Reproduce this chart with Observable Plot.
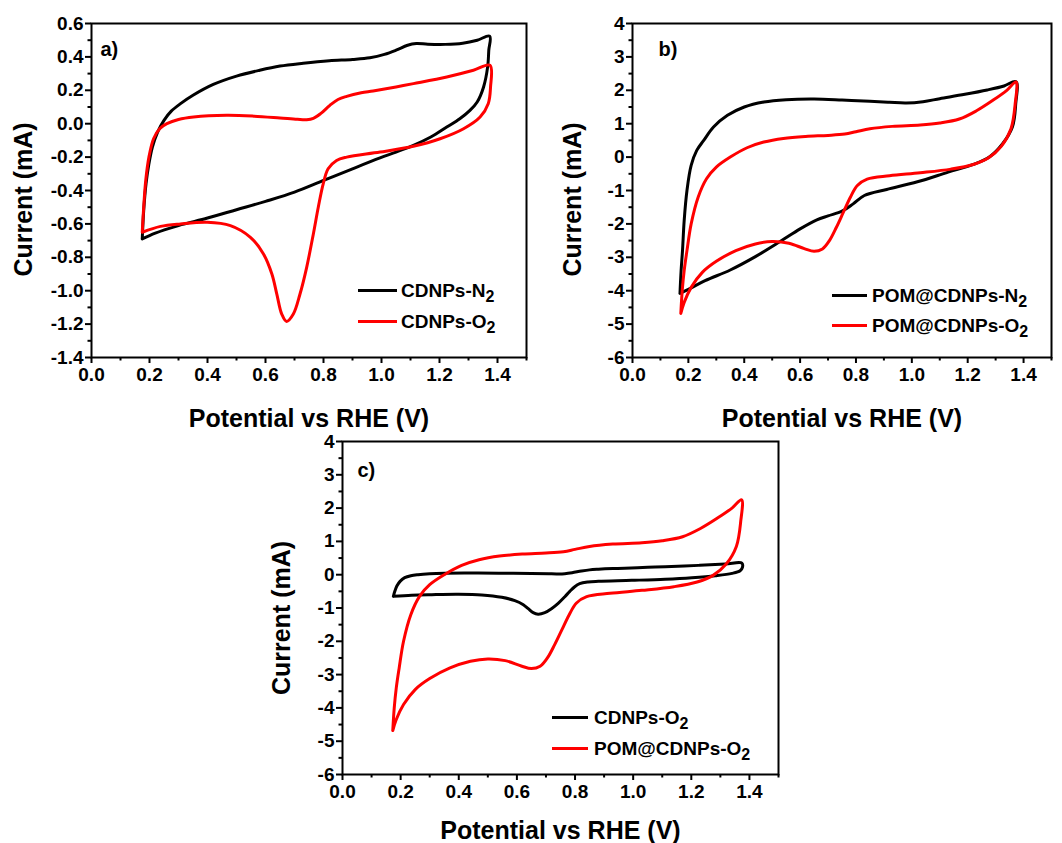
<!DOCTYPE html>
<html>
<head>
<meta charset="utf-8">
<script src="https://cdn.jsdelivr.net/npm/d3@7"></script>
<script src="https://cdn.jsdelivr.net/npm/@observablehq/plot@0.6"></script>
<style>
  html, body { margin: 0; padding: 0; background: #fff; }
  #root { position: relative; width: 1062px; height: 843px; overflow: hidden;
          font-family: "Liberation Sans", Arial, sans-serif; font-weight: bold; color: #000; }
  .panel { position: absolute; }
  .leg-line { position: absolute; height: 3px; }
  .leg-text { position: absolute; font-size: 19px; line-height: 19px; white-space: nowrap; }
  .leg-text .sub { font-size: 16px; position: relative; top: 5px; }
</style>
</head>
<body>
<div id="root"></div>
<script>
// ---------- data (E vs RHE in V, current in mA), each a closed CV loop ----------
const cdnpsN2 = [
  [0.175,-0.69],[0.18,-0.52],[0.188,-0.36],[0.198,-0.24],[0.21,-0.14],[0.228,-0.05],[0.25,0.02],
  [0.275,0.075],[0.307,0.12],[0.35,0.17],[0.42,0.235],[0.5,0.285],[0.58,0.32],[0.65,0.345],
  [0.73,0.362],[0.82,0.377],[0.9,0.385],[0.96,0.395],[1.01,0.415],[1.05,0.44],[1.09,0.47],
  [1.12,0.48],[1.16,0.476],[1.22,0.475],[1.28,0.482],[1.33,0.5],[1.373,0.524],
  [1.37,0.44],[1.366,0.34],[1.352,0.22],[1.33,0.13],[1.305,0.08],[1.27,0.03],[1.225,-0.02],
  [1.17,-0.08],[1.11,-0.13],[1.05,-0.17],[0.995,-0.205],[0.9,-0.27],[0.8,-0.34],[0.7,-0.41],
  [0.6,-0.465],[0.5,-0.515],[0.4,-0.565],[0.3,-0.61],[0.22,-0.655],[0.175,-0.69]
];
const cdnpsO2 = [
  [0.175,-0.65],[0.18,-0.5],[0.187,-0.34],[0.198,-0.2],[0.214,-0.09],[0.235,-0.03],[0.26,0.0],
  [0.3,0.025],[0.352,0.04],[0.466,0.05],[0.56,0.045],[0.65,0.034],[0.71,0.026],[0.742,0.024],
  [0.765,0.032],[0.79,0.06],[0.822,0.11],[0.85,0.145],[0.88,0.164],[0.93,0.185],[0.971,0.196],
  [1.05,0.22],[1.11,0.24],[1.225,0.28],[1.317,0.32],[1.374,0.35],
  [1.376,0.22],[1.368,0.12],[1.34,0.04],[1.283,-0.03],[1.202,-0.09],[1.11,-0.135],[0.995,-0.17],
  [0.88,-0.2],[0.845,-0.22],[0.816,-0.27],[0.799,-0.36],[0.782,-0.5],[0.765,-0.66],[0.742,-0.86],
  [0.719,-1.02],[0.696,-1.14],[0.673,-1.184],[0.656,-1.14],[0.639,-1.02],[0.622,-0.9],[0.593,-0.78],
  [0.548,-0.68],[0.479,-0.61],[0.399,-0.59],[0.307,-0.6],[0.238,-0.615],[0.175,-0.65]
];
const pomN2 = [
  [0.17,-4.08],[0.174,-3.4],[0.179,-2.8],[0.185,-1.9],[0.195,-1.0],[0.21,-0.25],[0.23,0.2],
  [0.255,0.5],[0.29,0.9],[0.34,1.25],[0.4,1.5],[0.47,1.65],[0.55,1.72],[0.65,1.74],[0.75,1.71],
  [0.85,1.67],[0.92,1.64],[0.98,1.62],[1.04,1.66],[1.1,1.75],[1.19,1.88],[1.27,2.01],[1.33,2.13],
  [1.373,2.26],
  [1.372,1.6],[1.36,0.9],[1.325,0.4],[1.28,0.02],[1.22,-0.22],[1.13,-0.45],[1.02,-0.74],
  [0.91,-0.97],[0.83,-1.15],[0.79,-1.4],[0.75,-1.62],[0.7,-1.76],[0.66,-1.88],[0.6,-2.15],
  [0.53,-2.52],[0.44,-2.98],[0.35,-3.38],[0.26,-3.7],[0.2,-3.96],[0.17,-4.08]
];
const pomO2 = [
  [0.173,-4.68],[0.178,-4.0],[0.185,-3.4],[0.195,-2.8],[0.21,-2.0],[0.235,-1.2],[0.265,-0.65],
  [0.3,-0.3],[0.35,0.0],[0.41,0.28],[0.47,0.45],[0.54,0.56],[0.62,0.62],[0.7,0.65],[0.76,0.69],
  [0.8,0.76],[0.85,0.85],[0.93,0.92],[1.03,0.96],[1.1,1.02],[1.17,1.14],[1.23,1.38],[1.29,1.7],
  [1.34,2.0],[1.373,2.25],
  [1.37,1.6],[1.355,0.85],[1.32,0.32],[1.275,-0.02],[1.22,-0.22],[1.14,-0.36],[1.03,-0.47],
  [0.92,-0.56],[0.84,-0.66],[0.805,-0.85],[0.78,-1.2],[0.755,-1.65],[0.73,-2.1],[0.705,-2.5],
  [0.68,-2.75],[0.65,-2.82],[0.615,-2.74],[0.56,-2.58],[0.5,-2.53],[0.44,-2.6],[0.37,-2.8],
  [0.3,-3.12],[0.25,-3.45],[0.21,-3.9],[0.185,-4.35],[0.173,-4.68]
];

// ---------- ticks ----------
const xTicks = [0, 0.2, 0.4, 0.6, 0.8, 1.0, 1.2, 1.4];
const xMinor = [0.1, 0.3, 0.5, 0.7, 0.9, 1.1, 1.3, 1.5];
const yTicksA = [-1.4, -1.2, -1.0, -0.8, -0.6, -0.4, -0.2, 0.0, 0.2, 0.4, 0.6];
const yMinorA = [-1.3, -1.1, -0.9, -0.7, -0.5, -0.3, -0.1, 0.1, 0.3, 0.5];
const yTicksB = [-6, -5, -4, -3, -2, -1, 0, 1, 2, 3, 4];
const yMinorB = [-5.5, -4.5, -3.5, -2.5, -1.5, -0.5, 0.5, 1.5, 2.5, 3.5];

const xTitle = "Potential vs RHE (V)";
const yTitle = "Current (mA)";
const BLACK = "#000000", RED = "#ff0000";
const FONT = '"Liberation Sans", Arial, sans-serif';
const TICK_FS = 19;

const root = document.getElementById("root");

function makePanel(cfg) {
  const fmtY = cfg.yDigits === 1 ? (d => d.toFixed(1)) : (d => d.toFixed(0));
  const svg = Plot.plot({
    width: cfg.width, height: cfg.height,
    marginLeft: cfg.ml, marginRight: cfg.mr, marginTop: cfg.mt, marginBottom: cfg.mb,
    x: {domain: [0, 1.5]},
    y: {domain: cfg.yDomain},
    style: {background: "transparent", fontFamily: FONT, fontWeight: "bold", fontSize: TICK_FS + "px", color: "#000", overflow: "visible"},
    marks: [
      Plot.axisX(xTicks, {tickSize: 6, tickPadding: 4, strokeWidth: 2, fontSize: TICK_FS, fontWeight: "bold", tickFormat: d => d.toFixed(1), label: null}),
      Plot.axisX(xMinor, {tickSize: 3.5, strokeWidth: 2, tickFormat: () => "", label: null}),
      Plot.axisY(cfg.yTicks, {tickSize: 6, tickPadding: 2, strokeWidth: 2, fontSize: TICK_FS, fontWeight: "bold", tickFormat: fmtY, label: null}),
      Plot.axisY(cfg.yMinor, {tickSize: 3.5, strokeWidth: 2, tickFormat: () => "", label: null}),
      ...cfg.series.map(s => Plot.line(s.data, {x: d => d[0], y: d => d[1], stroke: s.color, strokeWidth: 3, curve: "catmull-rom", strokeLinejoin: "round"})),
      Plot.frame({stroke: "#000", strokeWidth: 2}),
      Plot.text([xTitle], {text: d => d, frameAnchor: "bottom", textAnchor: "middle", dy: cfg.xTitleDy, lineAnchor: "middle", fontSize: 25, fontWeight: "bold"}),
      Plot.text([yTitle], {text: d => d, frameAnchor: "left", textAnchor: "middle", rotate: -90, dx: cfg.yTitleDx, dy: cfg.yTitleDy, lineAnchor: "middle", fontSize: 25, fontWeight: "bold"}),
      Plot.text([cfg.tag], {text: d => d, frameAnchor: "top-left", textAnchor: "start", lineAnchor: "middle", dx: cfg.tagDx, dy: cfg.tagDy, fontSize: 20, fontWeight: "bold"})
    ]
  });
  const wrap = document.createElement("div");
  wrap.className = "panel";
  wrap.style.left = cfg.left + "px";
  wrap.style.top = cfg.top + "px";
  wrap.appendChild(svg);
  root.appendChild(wrap);

  // legend (HTML, placed inside the plot frame)
  cfg.legend.rows.forEach((r, i) => {
    const y = cfg.legend.y[i];
    const line = document.createElement("div");
    line.className = "leg-line";
    line.style.left = cfg.legend.x0 + "px";
    line.style.width = (cfg.legend.x1 - cfg.legend.x0) + "px";
    line.style.top = (y - 1.5) + "px";
    line.style.background = r.color;
    root.appendChild(line);
    const t = document.createElement("div");
    t.className = "leg-text";
    t.style.left = cfg.legend.tx + "px";
    t.style.top = (y - 9.5) + "px";
    t.innerHTML = r.label + '<span class="sub">' + r.sub + "</span>";
    root.appendChild(t);
  });
}

makePanel({
  left: 0, top: 0, width: 530, height: 445, ml: 91, mr: 4, mt: 23, mb: 88,
  yDomain: [-1.4, 0.6], yTicks: yTicksA, yMinor: yMinorA, yDigits: 1,
  series: [{data: cdnpsN2, color: BLACK}, {data: cdnpsO2, color: RED}],
  xTitleDy: 61, yTitleDx: -68, yTitleDy: 9, tag: "a)", tagDx: 9, tagDy: 26,
  legend: {x0: 358, x1: 397, tx: 401, y: [290.5, 321.5],
           rows: [{label: "CDNPs-N", sub: "2", color: BLACK}, {label: "CDNPs-O", sub: "2", color: RED}]}
});

makePanel({
  left: 520, top: 0, width: 542, height: 445, ml: 112, mr: 11, mt: 23, mb: 88,
  yDomain: [-6, 4], yTicks: yTicksB, yMinor: yMinorB, yDigits: 0,
  series: [{data: pomN2, color: BLACK}, {data: pomO2, color: RED}],
  xTitleDy: 61, yTitleDx: -60, yTitleDy: 9, tag: "b)", tagDx: 26, tagDy: 26,
  legend: {x0: 832, x1: 867, tx: 872, y: [295, 325],
           rows: [{label: "POM@CDNPs-N", sub: "2", color: BLACK}, {label: "POM@CDNPs-O", sub: "2", color: RED}]}
});

makePanel({
  left: 260, top: 420, width: 530, height: 423, ml: 82, mr: 12, mt: 21, mb: 69,
  yDomain: [-6, 4], yTicks: yTicksB, yMinor: yMinorB, yDigits: 0,
  series: [{data: cdnpsO2, color: BLACK}, {data: pomO2, color: RED}],
  xTitleDy: 56, yTitleDx: -61, yTitleDy: 10, tag: "c)", tagDx: 15, tagDy: 29,
  legend: {x0: 552, x1: 588, tx: 594, y: [717, 748],
           rows: [{label: "CDNPs-O", sub: "2", color: BLACK}, {label: "POM@CDNPs-O", sub: "2", color: RED}]}
});
</script>
</body>
</html>
